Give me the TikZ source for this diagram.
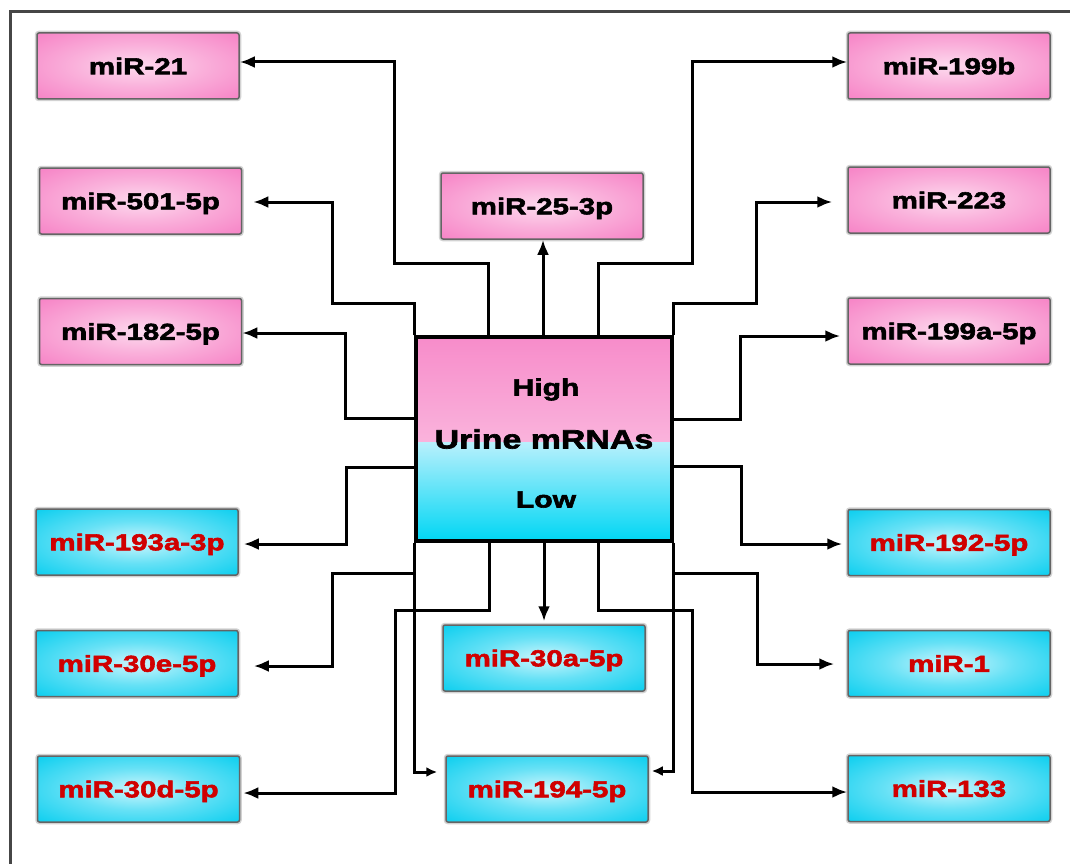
\documentclass[tikz,border=0pt]{standalone}
\usepackage{fontspec}
\newfontfamily\labfont{Liberation Sans}[FakeStretch=1.28, BoldFeatures={FakeBold=2.5}]
\usetikzlibrary{arrows.meta}

\definecolor{pinkedge}{RGB}{246,125,195}
\definecolor{pinkmid}{RGB}{253,218,238}
\definecolor{cyanedge}{RGB}{0,204,238}
\definecolor{cyanmid}{RGB}{205,246,253}
\definecolor{boxline}{RGB}{100,100,100}
\definecolor{labred}{RGB}{208,0,0}
\definecolor{framegray}{RGB}{70,70,70}
\definecolor{hitop}{RGB}{247,140,202}
\definecolor{himid}{RGB}{251,188,225}
\definecolor{hibot}{RGB}{253,216,237}
\definecolor{lotop}{RGB}{185,240,252}
\definecolor{lomid}{RGB}{140,232,250}
\definecolor{lobot}{RGB}{0,214,244}

\pgfdeclareradialshading{pinkglow}{\pgfpoint{0bp}{0bp}}{%
  color(0bp)=(pinkmid); color(16bp)=(pinkmid!55!pinkedge);
  color(38bp)=(pinkedge); color(70bp)=(pinkedge)}
\pgfdeclareradialshading{cyanglow}{\pgfpoint{0bp}{0bp}}{%
  color(0bp)=(cyanmid); color(16bp)=(cyanmid!50!cyanedge);
  color(38bp)=(cyanedge); color(70bp)=(cyanedge)}

\begin{document}
\begin{tikzpicture}[x=1pt,y=-1pt,
  mirbox/.style={rectangle, rounded corners=2pt, minimum width=202pt,
    minimum height=66pt, inner sep=0pt, draw=boxline, line width=1.5pt,
    preaction={draw=gray!35, line width=4.5pt},
    font={\labfont\bfseries\fontsize{23pt}{23pt}\selectfont},
    text height=16.5pt, text depth=0pt},
  upbox/.style={mirbox, shading=pinkglow, text=black},
  downbox/.style={mirbox, shading=cyanglow, text=labred},
  centerbox/.style={rectangle, minimum width=256pt, minimum height=204pt,
    inner sep=0pt, draw=black, line width=3.2pt,
    font={\labfont\bfseries\fontsize{26.5pt}{26.5pt}\selectfont},
    text height=19pt, text depth=0pt,
    path picture={
      \fill[top color=hitop, middle color=himid, bottom color=hibot]
        (path picture bounding box.north west) rectangle
        ([yshift=-3pt]path picture bounding box.east);
      \fill[top color=lotop, middle color=lomid, bottom color=lobot]
        ([yshift=-3pt]path picture bounding box.west) rectangle
        (path picture bounding box.south east);
    }},
  level/.style={font={\labfont\bfseries\fontsize{23.5pt}{23.5pt}\selectfont},
    text height=17pt, text depth=0pt, inner sep=0pt},
  link/.style={line width=3pt, -{Latex[length=15pt,width=12pt]}},
  smalllink/.style={line width=3pt, -{Latex[length=11pt,width=10pt]}},
]
\useasboundingbox (0,0) rectangle (1070,864);

% outer frame
\draw[framegray, line width=3pt] (10,864) -- (10,12) -- (1070,12);

% central box
\node[centerbox] (cen) at (544,439) {Urine mRNAs};
\node[level] (hi) at (546,387) {High};
\node[level] (lo) at (546,499) {Low};

% up-regulated
\node[upbox] (m21)   at (138,66)    {miR-21};
\node[upbox] (m501)  at (140.5,201) {miR-501-5p};
\node[upbox] (m182)  at (140.5,331.5) {miR-182-5p};
\node[upbox] (m253)  at (542,206)   {miR-25-3p};
\node[upbox] (m199b) at (949,66)    {miR-199b};
\node[upbox] (m223)  at (949,200)   {miR-223};
\node[upbox] (m199a) at (949,331)   {miR-199a-5p};

% down-regulated
\node[downbox] (m193) at (137,542)   {miR-193a-3p};
\node[downbox] (m30e) at (137,663.5) {miR-30e-5p};
\node[downbox] (m30d) at (138.5,789) {miR-30d-5p};
\node[downbox] (m30a) at (544,658)   {miR-30a-5p};
\node[downbox] (m194) at (547,789)   {miR-194-5p};
\node[downbox] (m192) at (949,542.5) {miR-192-5p};
\node[downbox] (m1)   at (949,663.5) {miR-1};
\node[downbox] (m133) at (949,788.5) {miR-133};

% connectors, upper side
\draw[link] (cen.north -| 488,0) |- (394,263) |- (m21.east |- 0,62);
\draw[link] (cen.north -| 598,0) |- (692,263) |- (m199b.west |- 0,62);
\draw[link] (cen.north -| 543,0) -- (m253.south -| 543,0);
\draw[link, shorten >=11pt] (cen.north west) |- (332,303) |- (m501.east |- 0,202);
\draw[link, shorten >=15pt] (cen.north east) |- (756,303) |- (m223.west |- 0,202);
\draw[link] (cen.west |- 0,418) -| (345,333) -- (m182.east |- 0,333);
\draw[link, shorten >=7pt] (cen.east |- 0,419) -| (740,336) -- (m199a.west |- 0,336);

% connectors, lower side
\draw[link, shorten >=5pt] (cen.west |- 0,467) -| (346,544) -- (m193.east |- 0,544);
\draw[link, shorten >=5pt] (cen.east |- 0,466) -| (741,544) -- (m192.west |- 0,544);
\draw[smalllink, shorten >=8pt] (cen.south west) |- (m194.west |- 0,772);
\draw[link, shorten >=15pt] (cen.south west |- 0,573) -| (332,666) -- (m30e.east |- 0,666);
\draw[link, shorten >=3pt] (cen.south -| 489,0) |- (395,610) |- (m30d.east |- 0,793);
\draw[link, shorten >=3pt] (cen.south -| 544,0) -- (m30a.north -| 544,0);
\draw[link] (cen.south -| 598,0) |- (692,610) |- (m133.west |- 0,792);
\draw[smalllink, shorten >=3pt] (cen.south east) |- (m194.east |- 0,771);
\draw[link, shorten >=13pt] (cen.south east |- 0,573) -| (757,664) -- (m1.west |- 0,664);
\end{tikzpicture}
\end{document}
